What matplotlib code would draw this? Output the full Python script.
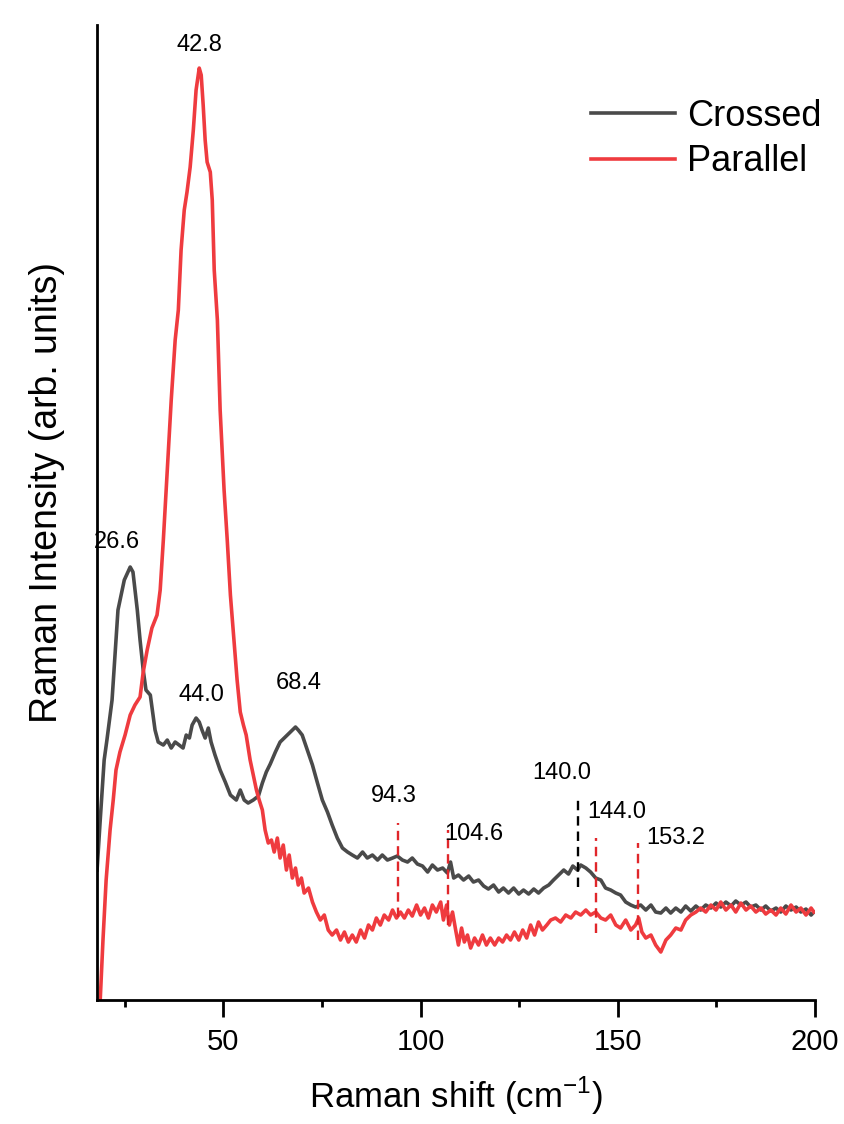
import matplotlib
matplotlib.use("Agg")
import matplotlib.pyplot as plt
from matplotlib.ticker import MultipleLocator

plt.rcParams['font.family'] = ['Liberation Sans', 'DejaVu Sans']

# Crossed polarisation spectrum (arb. units)
crossed_x = [18.0, 18.8, 19.8, 20.5, 21.8, 23.3, 24.9, 26.4, 27.1, 28.2, 28.9, 29.7, 30.4, 31.5, 32.7,
             33.5, 34.8, 35.8, 36.8, 37.8, 38.8, 39.8, 40.6, 41.4, 42.1, 43.1, 43.9, 44.6, 45.4, 46.2,
             46.9, 47.9, 49.2, 50.5, 51.8, 53.3, 54.3, 55.3, 56.3, 57.6, 58.9, 59.9, 60.9, 61.9, 63.2,
             64.4, 65.7, 67.0, 68.3, 69.0, 70.0, 71.3, 72.6, 73.8, 75.1, 76.4, 77.6, 78.9, 80.2, 81.5,
             82.7, 84.0, 85.3, 86.5, 87.8, 89.1, 90.3, 91.6, 92.9, 94.1, 95.4, 96.7, 97.9, 99.2, 100.5,
             101.8, 103.0, 104.3, 105.6, 106.8, 107.6, 108.4, 109.6, 110.9, 112.2, 113.4, 114.7, 116.0,
             117.2, 118.5, 119.8, 121.0, 122.3, 123.6, 124.9, 126.1, 127.4, 128.7, 129.9, 131.2, 132.5,
             133.7, 135.0, 136.3, 137.5, 138.6, 139.8, 140.6, 141.9, 143.1, 144.4, 145.7, 146.9, 148.2,
             149.5, 150.7, 152.0, 153.3, 154.5, 155.8, 157.1, 158.4, 159.6, 160.9, 162.2, 163.4, 164.7,
             166.0, 167.2, 168.5, 169.8, 171.0, 172.3, 173.6, 174.9, 176.1, 177.4, 178.7, 179.9, 181.2,
             182.5, 183.7, 185.0, 186.3, 187.5, 188.8, 190.1, 191.3, 192.6, 193.9, 195.2, 196.4, 197.7,
             199.0, 199.7]
crossed_y = [130, 180, 240, 260, 300, 390, 420, 433, 428, 390, 360, 330, 310, 305, 270,
             258, 255, 260, 252, 258, 255, 252, 265, 262, 275, 282, 278, 270, 262, 272,
             258, 245, 230, 218, 205, 200, 210, 200, 197, 200, 204, 217, 228, 236, 248,
             258, 263, 268, 273, 270, 265, 250, 235, 218, 200, 188, 175, 162, 152, 148,
             145, 142, 148, 142, 145, 140, 145, 140, 142, 144, 140, 138, 142, 136, 134,
             128, 135, 130, 132, 127, 138, 122, 125, 120, 124, 118, 120, 114,
             111, 115, 108, 112, 107, 112, 106, 110, 106, 111, 107, 112, 115,
             120, 125, 130, 126, 134, 130, 135, 132, 128, 122, 120, 112, 110,
             107, 105, 98, 95, 93, 95, 90, 95, 88, 87, 92, 87, 92,
             88, 94, 89, 94, 90, 95, 92, 97, 93, 98, 94, 99, 95,
             98, 93, 95, 90, 94, 89, 92, 88, 94, 90, 93, 88, 91,
             85, 88]

# Parallel polarisation spectrum
parallel_x = [18.8, 19.5, 20.3, 21.3, 22.1, 22.8, 23.8, 25.1, 26.4, 27.6, 28.9, 29.7, 30.7, 31.9, 33.2,
              34.0, 34.8, 35.8, 36.8, 37.8, 38.6, 39.3, 40.1, 40.8, 41.6, 42.4, 43.1, 43.9, 44.4, 44.9,
              45.4, 45.9, 46.7, 47.2, 47.7, 48.5, 49.2, 50.2, 51.0, 51.8, 52.5, 53.5, 54.3, 55.1, 55.8,
              56.8, 57.6, 58.4, 59.1, 59.9, 60.6, 61.4, 62.2, 62.9, 63.7, 64.4, 65.2, 66.0, 66.7, 67.5,
              68.3, 69.0, 69.8, 70.5, 71.6, 72.6, 73.6, 74.6, 75.6, 76.6, 77.6, 78.7, 79.7, 80.7, 81.7,
              82.7, 83.7, 84.8, 85.8, 86.8, 87.8, 88.8, 89.8, 90.8, 91.9, 92.9, 93.9, 94.9, 95.9, 96.9,
              97.9, 99.0, 100.0, 101.0, 102.0, 103.0, 104.0, 105.1, 105.8, 106.6, 107.3, 108.1, 108.9,
              109.6, 110.4, 111.1, 111.9, 112.7, 113.7, 114.7, 115.7, 116.7, 117.7, 118.8, 119.8, 120.8,
              121.8, 122.8, 123.8, 124.9, 125.9, 126.9, 127.9, 128.9, 129.9, 130.9, 132.0, 133.0, 134.2,
              135.5, 136.8, 138.1, 139.3, 140.6, 141.9, 143.1, 144.4, 145.7, 146.9, 148.2, 149.5, 150.7,
              152.0, 153.3, 154.5, 155.3, 156.1, 157.1, 158.4, 159.6, 160.9, 162.2, 163.4, 164.7, 166.0,
              167.2, 168.5, 169.8, 171.0, 172.3, 173.6, 174.9, 176.1, 177.4, 178.7, 179.9, 181.2, 182.5,
              183.7, 185.0, 186.3, 187.5, 188.8, 190.1, 191.3, 192.6, 193.9, 195.2, 196.4, 197.7, 199.0,
              199.7]
parallel_y = [0, 60, 120, 170, 200, 230, 248, 265, 285, 295, 303, 328, 350, 372, 385,
              410, 460, 530, 600, 660, 690, 750, 790, 808, 833, 870, 910, 932, 925, 895,
              860, 838, 828, 800, 730, 680, 590, 510, 460, 405, 370, 320, 288, 275, 265,
              240, 225, 210, 200, 190, 170, 157, 160, 148, 162, 142, 155, 130, 145, 122,
              132, 115, 122, 107, 112, 98, 88, 80, 85, 70, 65, 70, 60, 68, 58,
              65, 58, 70, 62, 75, 70, 82, 75, 85, 80, 90, 82, 88, 82, 90,
              84, 95, 85, 92, 82, 95, 88, 98, 80, 95, 75, 88, 70,
              55, 72, 58, 65, 52, 62, 55, 65, 55, 62, 55, 62, 58,
              65, 60, 68, 60, 70, 62, 75, 65, 78, 70, 75, 80, 82,
              78, 85, 82, 88, 85, 90, 85, 88, 82, 80, 85, 75, 72,
              80, 70, 75, 82, 68, 62, 65, 55, 48, 60, 65, 72, 70,
              80, 85, 88, 92, 88, 95, 90, 98, 90, 95, 88, 97, 90,
              94, 88, 92, 86, 90, 85, 92, 86, 95, 88, 92, 85, 92,
              88]

# peak labels
peak_labels = ['42.8', '26.6', '44.0', '68.4', '94.3', '104.6', '140.0', '144.0', '153.2']
label_x = [43.9, 23.1, 44.4, 69.0, 93.1, 113.4, 135.8, 149.7, 164.7]
label_y = [955, 458, 305, 317, 204, 166, 227, 188, 162]

# dashed markers
mark_x = [94.3, 107.0, 140.0, 144.4, 155.1]
mark_lo = [83, 75, 113, 67, 60]
mark_hi = [177, 170, 201, 162, 157]
mark_col = ['#e0262a', '#e0262a', 'black', '#e0262a', '#e0262a']

fig = plt.figure(figsize=(8.44, 11.24), dpi=100)
ax = fig.add_axes([0.115, 0.1103, 0.8507, 0.8674])

ax.plot(crossed_x, crossed_y, color='#4a4a4a', lw=2.6, label='Crossed')
ax.plot(parallel_x, parallel_y, color='#ef3b3f', lw=2.6, label='Parallel')

for x, lo, hi, c in zip(mark_x, mark_lo, mark_hi, mark_col):
    ax.vlines(x, lo, hi, colors=c, linestyles=(0, (4, 2.5)), lw=1.7)

for t, x, y in zip(peak_labels, label_x, label_y):
    ax.text(x, y, t, ha='center', va='center', fontsize=17)

ax.set_xlim(18, 200)
ax.set_ylim(0, 975)
ax.set_yticks([])
ax.xaxis.set_major_locator(MultipleLocator(50))
ax.xaxis.set_minor_locator(MultipleLocator(25))
ax.tick_params(axis='x', which='major', direction='out', length=12, width=2, labelsize=21, pad=8)
ax.tick_params(axis='x', which='minor', direction='out', length=5, width=2)

for s in ['top', 'right']:
    ax.spines[s].set_visible(False)
for s in ['left', 'bottom']:
    ax.spines[s].set_linewidth(2)

ax.set_xlabel('Raman shift (cm$^{\\mathregular{-1}}$)', fontsize=25, labelpad=14)
ax.set_ylabel('Raman Intensity (arb. units)', fontsize=27)
ax.yaxis.set_label_coords(-0.045, 0.521)

ax.legend(loc='upper left', bbox_to_anchor=(0.642, 0.958), frameon=False, fontsize=26,
          handlelength=2.35, handletextpad=0.33, labelspacing=0.3)

fig.savefig('out.png', dpi=100)
